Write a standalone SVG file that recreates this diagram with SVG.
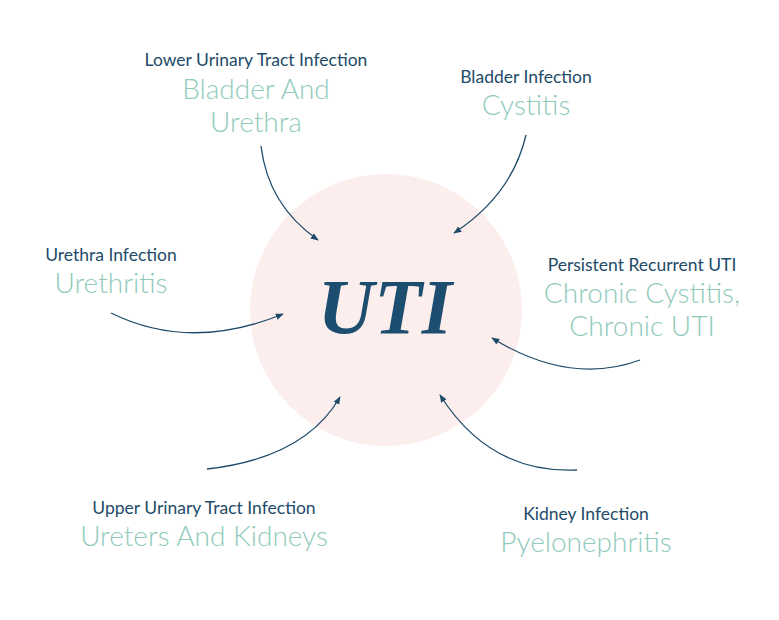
<svg xmlns="http://www.w3.org/2000/svg" width="779" height="620" viewBox="0 0 779 620">
<style>
.lbl{font-family:Lato,"Open Sans","Liberation Sans",sans-serif;font-size:17.5px;fill:#1e4b69;text-anchor:middle;font-weight:400}
.val{font-family:Lato,"Open Sans","Liberation Sans",sans-serif;font-size:28px;fill:#8fcabb;text-anchor:middle;font-weight:300}
.conn{fill:none;stroke:#1e4b69;stroke-width:1.3}
</style>
<defs>
<marker id="ah" viewBox="0 0 10 10" refX="9" refY="5" markerWidth="8" markerHeight="8" markerUnits="userSpaceOnUse" orient="auto">
<path d="M0,1 L10,5 L0,9 Z" fill="#1e4b69"/>
</marker>
</defs>
<rect width="779" height="620" fill="#ffffff"/>
<g id="center">
<circle cx="386" cy="310" r="136" fill="#fdeeee"/>
<text x="385" y="333" font-family="'Liberation Serif',serif" font-size="78" font-weight="bold" font-style="italic" fill="#1d4e6f" text-anchor="middle">UTI</text>
</g>
<g id="connectors">
<path class="conn" marker-end="url(#ah)" d="M261,146 Q268,205 318,240"/>
<path class="conn" marker-end="url(#ah)" d="M526,135 Q512,195 454,233"/>
<path class="conn" marker-end="url(#ah)" d="M111,313 Q190,352 283,314"/>
<path class="conn" marker-end="url(#ah)" d="M640,360 Q570,386 492,338"/>
<path class="conn" marker-end="url(#ah)" d="M207,469 Q305,458 340,397"/>
<path class="conn" marker-end="url(#ah)" d="M577,470 Q490,474 440,395"/>
</g>
<g id="lower">
<text class="lbl" x="256" y="66">Lower Urinary Tract Infection</text>
<text class="val" x="256" y="99">Bladder And</text>
<text class="val" x="256" y="132">Urethra</text>
</g>
<g id="bladder">
<text class="lbl" x="526" y="83">Bladder Infection</text>
<text class="val" x="526" y="115">Cystitis</text>
</g>
<g id="urethra">
<text class="lbl" x="111" y="261">Urethra Infection</text>
<text class="val" x="111" y="293">Urethritis</text>
</g>
<g id="chronic">
<text class="lbl" x="642" y="271">Persistent Recurrent UTI</text>
<text class="val" x="642" y="303">Chronic Cystitis,</text>
<text class="val" x="642" y="336">Chronic UTI</text>
</g>
<g id="upper">
<text class="lbl" x="204" y="514">Upper Urinary Tract Infection</text>
<text class="val" x="204" y="546">Ureters And Kidneys</text>
</g>
<g id="kidney">
<text class="lbl" x="586" y="520">Kidney Infection</text>
<text class="val" x="586" y="552">Pyelonephritis</text>
</g>
</svg>
